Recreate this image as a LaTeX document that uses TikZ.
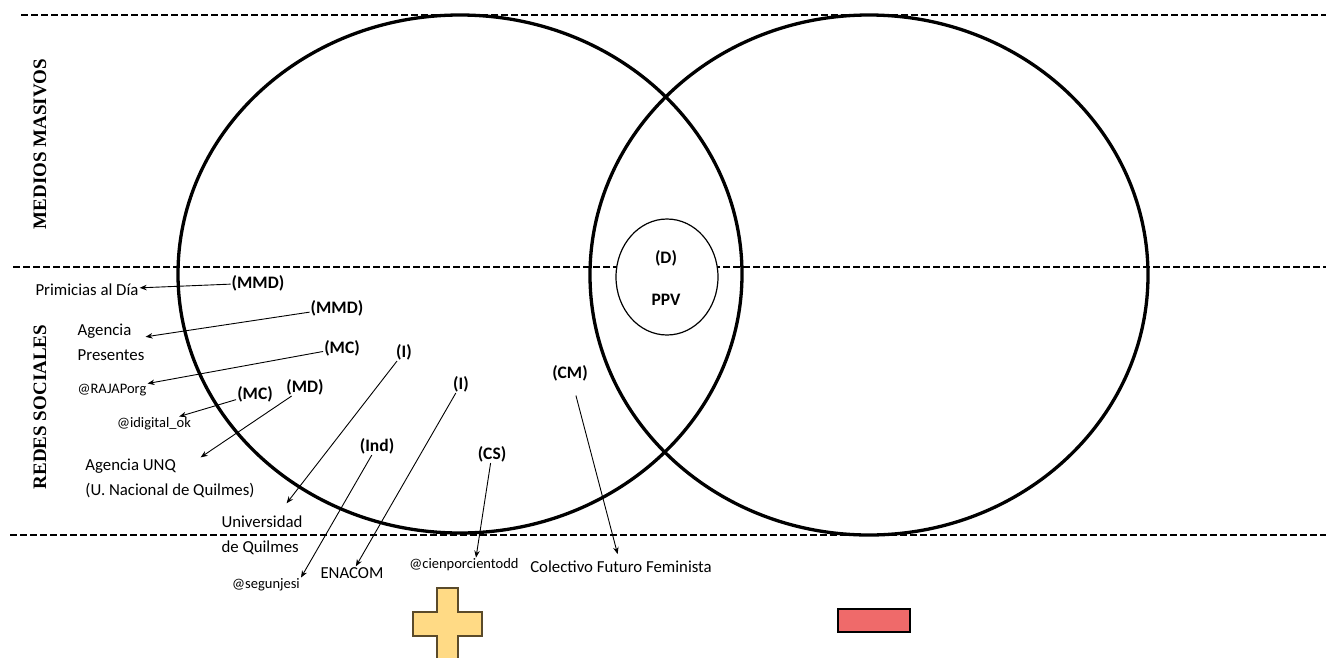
\documentclass[tikz,border=0pt]{standalone}
\usepackage{fontspec}
\setmainfont{Carlito}
\newfontfamily\bandfont{Liberation Serif}
\usepackage{xcolor}
\usepackage{tikz}
\usetikzlibrary{arrows.meta, positioning, calc}

\definecolor{crossfill}{HTML}{FFDA85}
\definecolor{crossline}{HTML}{5A4A2A}
\definecolor{minusfill}{HTML}{EF6A6A}

\begin{document}
\begin{tikzpicture}[
    x=1pt, y=-1pt,
    lbl/.style={font=\fontsize{17.5}{20}\selectfont\bfseries, inner sep=1pt},
    org/.style={font=\fontsize{16.8}{25}\selectfont, align=left, inner sep=1pt},
    handle/.style={font=\fontsize{14.5}{17}\selectfont, inner sep=1pt},
    band/.style={font=\fontsize{19}{22}\selectfont\bandfont\bfseries, rotate=90},
    zone/.style={line width=3.3pt},
    divider/.style={line width=2.3pt, dash pattern=on 7pt off 3pt},
    arrow/.style={-{Stealth[length=7pt, width=5.5pt]}, line width=0.9pt}
]
\useasboundingbox (0,0) rectangle (1326,657);

% bands
\draw[divider] (21,15) -- (1326,15);
\draw[divider] (13,267) -- (1326,267);
\draw[divider] (10,535) -- (1326,535);
\node[band] (masivos) at (40,144) {MEDIOS MASIVOS};
\node[band] (sociales) at (40,407) {REDES SOCIALES};

% venn
\draw[zone] (460,274) ellipse [x radius=282, y radius=259];
\draw[zone] (869,275) ellipse [x radius=279, y radius=260];
\draw[fill=white, line width=1.2pt] (667,277) ellipse [x radius=51, y radius=58];
\node[lbl] (d) at (666,258) {(D)};
\node[lbl] (ppv) at (666,300) {PPV};

% actors
\node[org] (primicias) at (87,290) {Primicias al Día};
\node[org] (presentes) at (111,342) {Agencia\\Presentes};
\node[handle] (raja) at (112,390) {@RAJAPorg};
\node[handle] (idigital) at (154,424) {@idigital\_ok};
\node[org] (unq) at (170,478) {Agencia UNQ\\(U. Nacional de Quilmes)};
\node[org] (univ) at (262,535) {Universidad\\de Quilmes};
\node[handle] (segunjesi) at (266,585) {@segunjesi};
\node[org] (enacom) at (352,573) {ENACOM};
\node[handle] (cien) at (464,565) {@cienporcientodd};
\node[org] (colectivo) at (621,567) {Colectivo Futuro Feminista};

% roles
\node[lbl] (mmdA) at (258,283) {(MMD)};
\node[lbl] (mmdB) at (337,308) {(MMD)};
\node[lbl] (mcA) at (342,348) {(MC)};
\node[lbl] (mcB) at (255,394) {(MC)};
\node[lbl] (md) at (305,387) {(MD)};
\node[lbl] (iA) at (404,352) {(I)};
\node[lbl] (ind) at (377,446) {(Ind)};
\node[lbl] (iB) at (461,384) {(I)};
\node[lbl] (cs) at (492,454) {(CS)};
\node[lbl] (cm) at (570,373) {(CM)};

\draw[arrow] (mmdA) -- (primicias);
\draw[arrow] (mmdB) -- (presentes);
\draw[arrow] (mcA) -- (raja);
\draw[arrow] (mcB) -- (idigital);
\draw[arrow] (md) -- (unq);
\draw[arrow, shorten >=14pt] (iA) -- (univ);
\draw[arrow] (ind) -- (segunjesi.north east);
\draw[arrow] (iB) -- (enacom);
\draw[arrow] (cs) -- ($(cien.north)+(12,0)$);
\draw[arrow, shorten <=14pt, shorten >=6pt] (cm) -- (colectivo);

% signs
\draw[fill=crossfill, draw=crossline, line width=1.2pt]
  (437,588) -- (458,588) -- (458,612) -- (482,612) -- (482,636) -- (458,636)
  -- (458,665) -- (437,665) -- (437,636) -- (413,636) -- (413,612) -- (437,612) -- cycle;
\draw[fill=minusfill, line width=1.2pt] (838,609) rectangle (910,632);

\end{tikzpicture}
\end{document}
